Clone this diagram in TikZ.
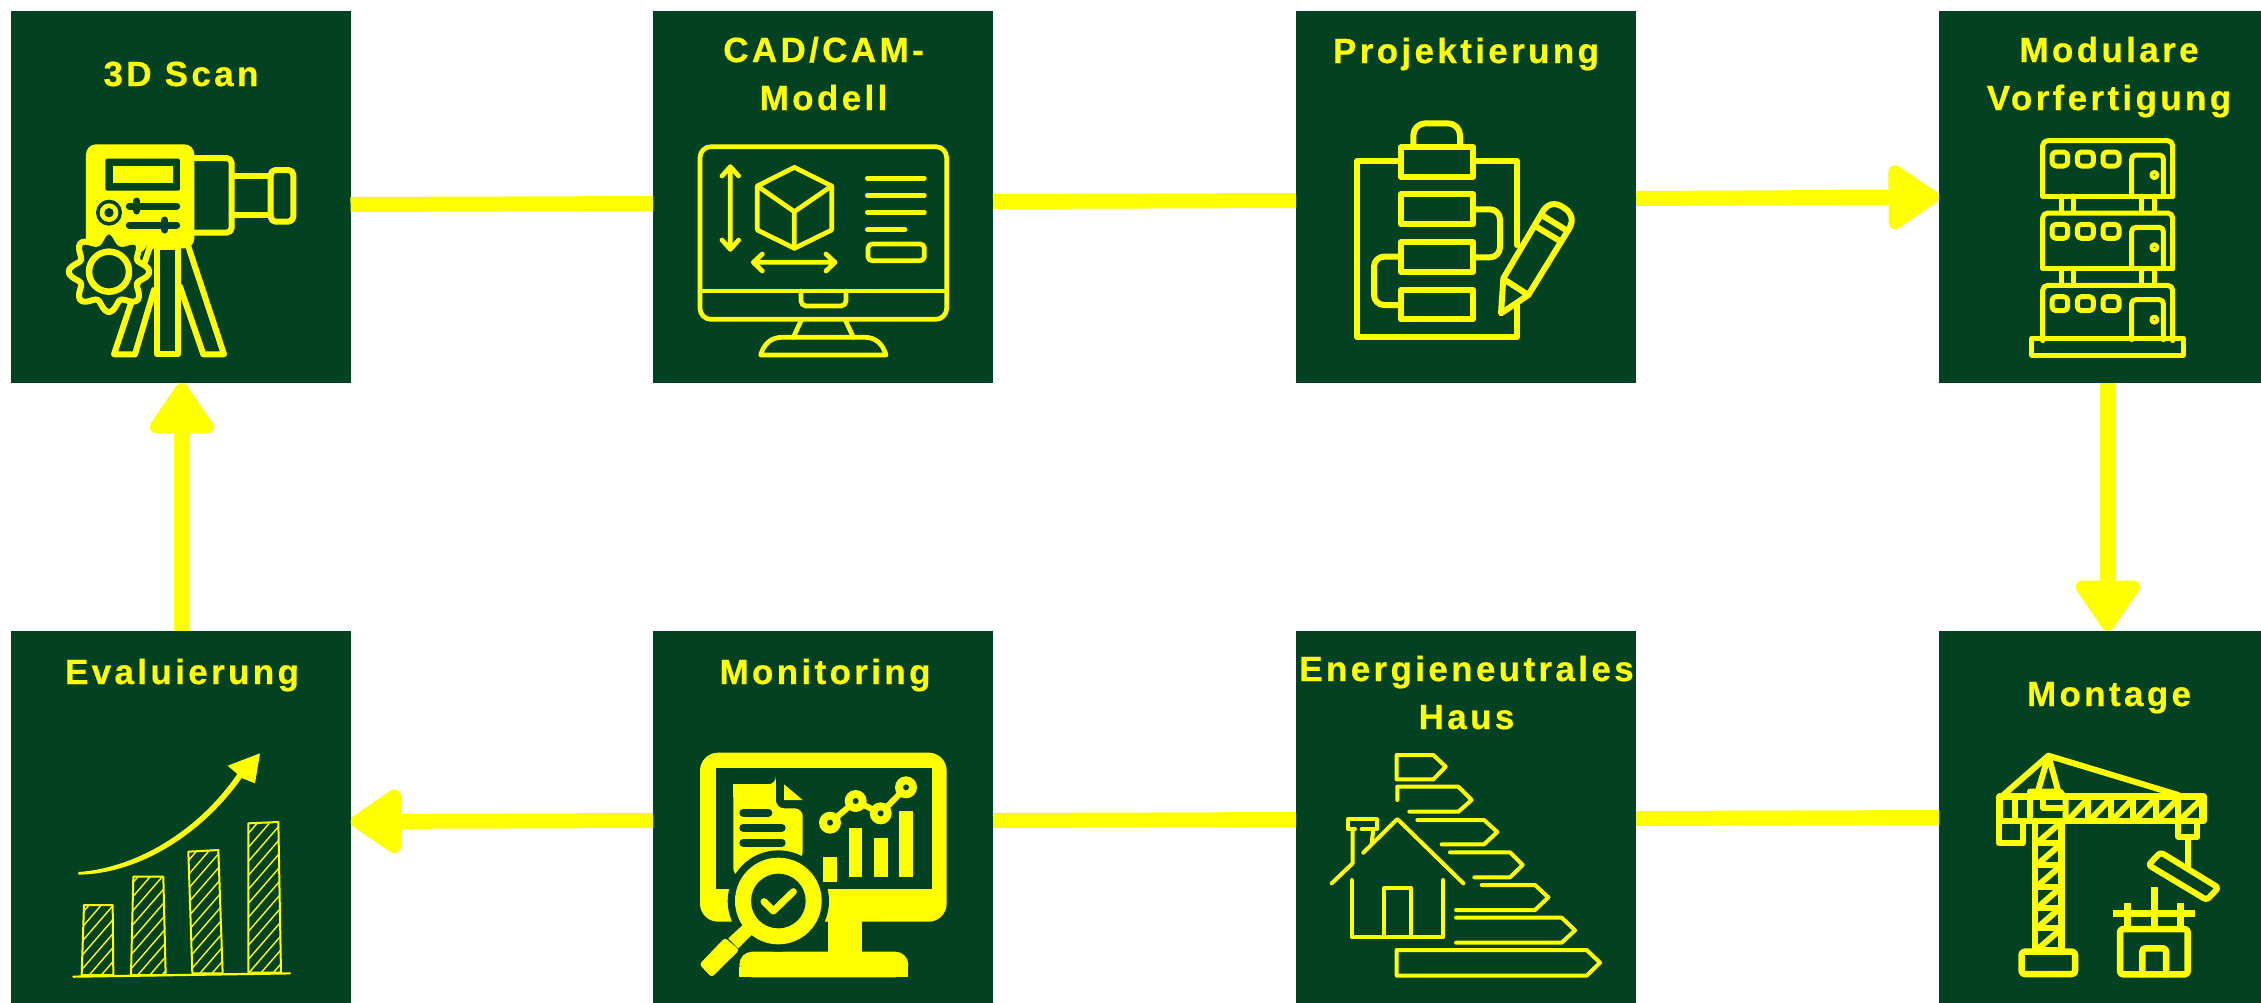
\documentclass[tikz,border=0pt]{standalone}
\usepackage{fontspec}
\usetikzlibrary{arrows.meta}
\newfontfamily\labelfont[LetterSpace=9.6,BoldFeatures={FakeBold=0.5}]{Liberation Sans}
\definecolor{boxgreen}{HTML}{034123}
\definecolor{signal}{HTML}{FFFF00}
\tikzset{
  boxn/.style={fill=boxgreen,minimum width=340pt,minimum height=372pt,inner sep=0pt,outer sep=0pt},
  lab/.style={text=signal,font=\labelfont\bfseries\fontsize{35}{48}\selectfont,align=center,anchor=base,inner sep=0pt},
  flow/.style={draw=signal,line width=15pt},
  headed/.style={flow,-{Triangle[length=56pt,width=72pt,round,line width=13pt]}},
  icon/.style={shift={#1},x=0.33333pt,y=-0.33333pt,draw=signal,line join=round,line cap=round},
  ln/.style={draw=signal,line width=#1pt},
  ln/.default=5,
  gap/.style={draw=boxgreen,line width=#1pt},
}
\begin{document}
\begin{tikzpicture}[x=1pt,y=-1pt]
\useasboundingbox (0,0) rectangle (2261,1002);
\fill[white] (0,0) rectangle (2261,1002);
% boxes
\node[boxn] (scan) at (180.5,197) {};
\node[boxn] (cad)  at (823,197) {};
\node[boxn] (proj) at (1466,197) {};
\node[boxn] (modu) at (2109,197) {};
\node[boxn] (eval) at (180.5,817) {};
\node[boxn] (moni) at (823,817) {};
\node[boxn] (ener) at (1466,817) {};
\node[boxn] (mont) at (2109,817) {};
% connectors
\draw[flow] ([yshift=-7.5pt]scan.east) -- ([yshift=-6.5pt]cad.west);
\draw[flow] ([yshift=-4.5pt]cad.east) -- ([yshift=-3.5pt]proj.west);
\draw[headed] ([yshift=-1.5pt]proj.east) -- (modu.west);
\draw[headed] ([xshift=-1.3pt]modu.south) -- ([xshift=-1.3pt]mont.north);
\draw[flow] ([yshift=-0.5pt]mont.west) -- ([yshift=-1.5pt]ener.east);
\draw[flow] ([yshift=-2.5pt]ener.west) -- ([yshift=-3.5pt]moni.east);
\draw[headed] ([yshift=-3.5pt]moni.west) -- ([yshift=-4.5pt]eval.east);
\draw[headed] ([xshift=1.2pt]eval.north) -- ([xshift=1.2pt]scan.south);
% labels
\node[lab] (l1) at (181,86) {3D Scan};
\node[lab] (l2) at (823.5,110) {CAD/CAM-\\Modell};
\node[lab] (l3) at (1466,63) {Projektierung};
\node[lab] (l4) at (2109,110) {Modulare\\Vorfertigung};
\node[lab] (l5) at (182,684) {Evaluierung};
\node[lab] (l6) at (825,684) {Monitoring};
\node[lab] (l7) at (1466.5,729) {Energieneutrales\\Haus};
\node[lab] (l8) at (2109,706) {Montage};

% icon 1: scanner
\begin{scope}[icon={(0,0)}]
\fill[signal,rounded corners=10pt] (258,760) -- (258,433) -- (583,433) -- (583,745) -- (440,745) -- (440,760) -- cycle;
\fill[boxgreen,rounded corners=2pt] (316,476) rectangle (540,572);
\fill[signal] (338,498) rectangle (518,550);
\fill[boxgreen] (327,638) circle (39);
\fill[signal] (327,638) circle (28);
\fill[boxgreen] (327,638) circle (14);
\draw[gap=7] (388,618) -- (530,618) (388,675) -- (530,675);
\draw[gap=7] (411,603) -- (411,633) (495,660) -- (495,690);
\draw[ln=6,rounded corners=5pt] (583,474) -- (695,474) -- (695,698) -- (583,698);
\draw[ln=6] (695,528) -- (812,528) (695,645) -- (812,645);
\draw[ln=6,rounded corners=5pt] (812,510) rectangle (880,665);
\draw[ln=6] (471,740) rectangle (535,1063);
\draw[ln=6] (565,740) -- (672,1063) -- (610,1063) -- (540,860);
\draw[ln=6] (450,740) -- (342,1063) -- (405,1063) -- (462,870);
\draw[ln=6,fill=boxgreen,smooth cycle,line join=round] plot[domain=0:356,samples=90,variable=\t] ({327+(106+15*cos(8*\t))*cos(\t)},{815+(106+15*cos(8*\t))*sin(\t)});
\draw[ln=6.5] (327,815) circle (60);
\end{scope}

% icon 2: monitor
\begin{scope}[icon={(640,0)}]
\draw[ln=4.7,rounded corners=11pt] (180,440) rectangle (920,958);
\draw[ln=4.7] (180,873) -- (920,873);
\draw[ln=4.7,rounded corners=5pt] (483,873) -- (483,918) -- (618,918) -- (618,873);
\draw[ln=4.7] (485,958) -- (460,1012) (615,958) -- (640,1012);
\draw[ln=4.7] (362,1065) .. controls (372,1030) and (395,1012) .. (425,1012) -- (675,1012) .. controls (705,1012) and (728,1030) .. (738,1065) -- cycle;
\draw[ln=4.7] (271,500) -- (271,748) (246,528) -- (271,500) -- (296,528) (246,720) -- (271,748) -- (296,720);
\draw[ln=4.7] (340,787) -- (585,787) (367,762) -- (340,787) -- (367,813) (558,762) -- (585,787) -- (558,813);
\draw[ln=4.7] (463,502) -- (575,558) -- (575,690) -- (463,745) -- (352,690) -- (352,558) -- cycle;
\draw[ln=4.7] (352,558) -- (463,635) -- (575,558) (463,635) -- (463,745);
\draw[ln=4.7] (682,535) -- (853,535) (682,586) -- (853,586) (682,637) -- (853,637) (682,689) -- (795,689);
\draw[ln=4.7,rounded corners=4pt] (684,732) rectangle (853,782);
\end{scope}

% icon 3: clipboard
\begin{scope}[icon={(1280,0)}]
\draw[ln=6] (355,482) -- (232,482) -- (232,1012) -- (710,1012) -- (710,915);
\draw[ln=6] (585,482) -- (710,482) -- (710,735);
\draw[ln=6] (362,442) rectangle (580,530);
\draw[ln=6,rounded corners=12pt] (400,438) -- (400,370) -- (540,370) -- (540,438);
\draw[ln=6] (362,583) rectangle (580,672);
\draw[ln=6] (362,727) rectangle (580,815);
\draw[ln=6] (362,870) rectangle (580,958);
\draw[ln=6,rounded corners=10pt] (580,628) -- (660,628) -- (660,772) -- (580,772);
\draw[ln=6,rounded corners=10pt] (362,770) -- (282,770) -- (282,915) -- (362,915);
\draw[ln=6,fill=boxgreen] (663,940) -- (670,835) -- (785,640) .. controls (800,610) and (825,605) .. (850,622) .. controls (875,638) and (882,660) .. (868,685) -- (745,885) -- cycle;
\draw[ln=6] (790,648) -- (858,690) (772,682) -- (838,722) (678,842) -- (745,885);
\end{scope}

% icon 4: modules
\begin{scope}[icon={(1920,0)}]
\foreach \d in {0,217,434} {
  \begin{scope}[yshift=-\d*0.33333pt]
  \draw[ln=5,rounded corners=5pt] (368,588) -- (368,422) -- (758,422) -- (758,588);
  \draw[ln=5,rounded corners=4pt] (396,456) rectangle (443,498);
  \draw[ln=5,rounded corners=4pt] (472,456) rectangle (520,498);
  \draw[ln=5,rounded corners=4pt] (549,456) rectangle (597,498);
  \draw[ln=5,rounded corners=4pt] (635,585) -- (635,465) -- (730,465) -- (730,585);
  \draw[ln=4] (703,525) circle (9);
  \end{scope}
}
\draw[ln=5] (368,588) -- (758,588) (368,805) -- (758,805);
\foreach \d in {0,217} {
  \draw[ln=5] (423,588+\d) -- (423,638+\d) (460,588+\d) -- (460,638+\d) (665,588+\d) -- (665,638+\d) (703,588+\d) -- (703,638+\d);
}
\draw[ln=5] (335,1015) rectangle (790,1065);
\end{scope}

% icon 5: chart
\begin{scope}[icon={(0,620)}]
\fill[signal] (235,756) .. controls (400,745) and (590,640) .. (712,462) -- (683,437) -- (780,400) -- (765,490) -- (725,474) .. controls (600,650) and (410,762) .. (235,764) -- cycle;
\foreach \p in {{(252,855) -- (338,855) -- (340,1065) -- (245,1065)},{(400,770) -- (490,770) -- (497,1065) -- (393,1065)},{(565,695) -- (655,690) -- (668,1060) -- (577,1060)},{(745,610) -- (835,606) -- (843,1058) -- (745,1058)}} {
  \begin{scope}
  \clip \p -- cycle;
  \foreach \yy in {700,742,...,1950} {
    \draw[ln=1.4] (220,\yy) -- (870,\yy-750);
  }
  \end{scope}
  \draw[ln=2] \p -- cycle;
}
\draw[ln=2.2] (220,1070) -- (870,1060);
\end{scope}

% icon 6: monitoring
\begin{scope}[icon={(640,620)}]
\fill[signal,rounded corners=18pt] (180,398) rectangle (920,905);
\fill[signal] (565,900) -- (667,900) -- (667,1000) -- (565,1000) -- cycle;
\fill[signal,rounded corners=13pt] (298,1072) -- (298,995) -- (805,995) -- (805,1072) -- cycle;
\fill[signal] (298,1040) rectangle (805,1072);
\fill[boxgreen] (228,445) rectangle (875,807);
\fill[signal,rounded corners=8pt] (408,480) -- (408,565) -- (488,565) -- (488,720) -- (280,770) -- (280,493) -- (408,493) -- cycle;
\fill[boxgreen] (408,470) rectangle (432,545);
\fill[signal] (280,493) rectangle (408,530);
\fill[signal] (432,493) -- (488,540) -- (432,540) -- cycle;
\draw[gap=8] (310,578) -- (385,578) (310,623) -- (425,623) (310,668) -- (425,668);
\fill[boxgreen] (415,843) circle (152);
\fill[signal] (550,710) rectangle (592,787);
\fill[signal] (626,625) rectangle (667,772);
\fill[signal] (701,655) rectangle (743,772);
\fill[signal] (778,573) rectangle (820,772);
\draw[ln=6] (570,608) -- (647,543) -- (722,580) -- (798,502);
\foreach \cx/\cy in {570/608,647/543,722/580,798/502} {
  \fill[signal] (\cx,\cy) circle (33);
  \fill[boxgreen] (\cx,\cy) circle (9);
}
\fill[signal] (415,843) circle (130);
\fill[boxgreen] (415,843) circle (82);
\draw[ln=7] (372,845) -- (400,873) -- (460,815);
\fill[signal] (308,915) -- (337,943) -- (295,985) -- (265,955) -- cycle;
\fill[signal,rounded corners=3pt] (255,953) -- (298,990) -- (215,1072) -- (178,1033) -- cycle;
\end{scope}

% icon 7: energy house
\begin{scope}[icon={(1280,620)}]
\draw[ln=4] (350,405) -- (460,405) -- (497,440) -- (460,478) -- (350,478) -- cycle;
\draw[ln=4] (352,540) -- (352,500) -- (535,500) -- (575,540) -- (535,575) -- (388,575);
\draw[ln=4] (412,600) -- (612,600) -- (652,636) -- (612,673) -- (485,673);
\draw[ln=4] (510,697) -- (690,697) -- (728,735) -- (690,772) -- (583,772);
\draw[ln=4] (605,795) -- (765,795) -- (805,832) -- (765,870) -- (528,870);
\draw[ln=4] (528,893) -- (845,893) -- (885,931) -- (845,968) -- (528,968);
\draw[ln=4] (350,990) -- (920,990) -- (960,1028) -- (920,1067) -- (350,1067) -- cycle;
\draw[ln=4] (250,698) -- (352,597) -- (550,790);
\draw[ln=4] (155,790) -- (218,730) -- (218,630);
\draw[ln=4] (225,628) -- (205,628) -- (205,598) -- (290,598) -- (290,628) -- (245,628);
\draw[ln=4] (280,628) -- (275,670);
\draw[ln=4] (215,780) -- (215,950) -- (490,950) -- (490,780);
\draw[ln=4] (313,950) -- (313,803) -- (393,803) -- (393,950);
\end{scope}

% icon 8: crane
\begin{scope}[icon={(1920,620)}]
\draw[ln=6.5] (238,530) -- (850,530) -- (850,603) -- (238,603) -- (238,530);
\draw[ln=6] (238,603) -- (238,670) -- (308,670) -- (308,603);
\draw[ln=6] (285,530) -- (285,603) (330,515) -- (330,603);
\draw[ln=6] (330,515) -- (420,515) -- (437,535) -- (437,603);
\draw[ln=6] (370,525) -- (370,565) -- (430,565);
\draw[ln=6] (385,407) -- (250,525) (385,407) -- (355,510) (385,407) -- (415,515) (385,407) -- (775,525);
\foreach \xa/\xb in {505/445,572/510,640/578,707/645,775/712,847/780} {
  \draw[ln=6] (\xa,540) -- (\xa,600);
  \draw[ln=6] (\xa,535) -- (\xb,600);
}
\draw[ln=6.5] (345,603) -- (345,990) (425,603) -- (425,990);
\foreach \yy in {670,735,800,865,925,990} {
  \draw[ln=6] (345,\yy) -- (425,\yy);
  \draw[ln=6] (350,\yy) -- (425,\yy-65);
}
\draw[ln=6.5,rounded corners=3pt] (305,995) rectangle (465,1062);
\draw[ln=6] (775,603) -- (775,650) -- (832,650) -- (832,603);
\draw[ln=6] (803,650) -- (803,740);
\draw[ln=6,rounded corners=3pt] (722,697) -- (895,803) -- (860,840) -- (685,735) -- cycle;
\draw[ln=6.5,rounded corners=3pt] (600,927) -- (803,927) -- (803,1063) -- (600,1063) -- cycle;
\draw[ln=6.5,rounded corners=3pt] (667,1063) -- (667,985) -- (738,985) -- (738,1063);
\draw[ln=7,line cap=butt] (578,880) -- (825,880) (622,848) -- (622,925) (702,802) -- (702,925) (780,848) -- (780,925);
\end{scope}
\end{tikzpicture}
\end{document}
